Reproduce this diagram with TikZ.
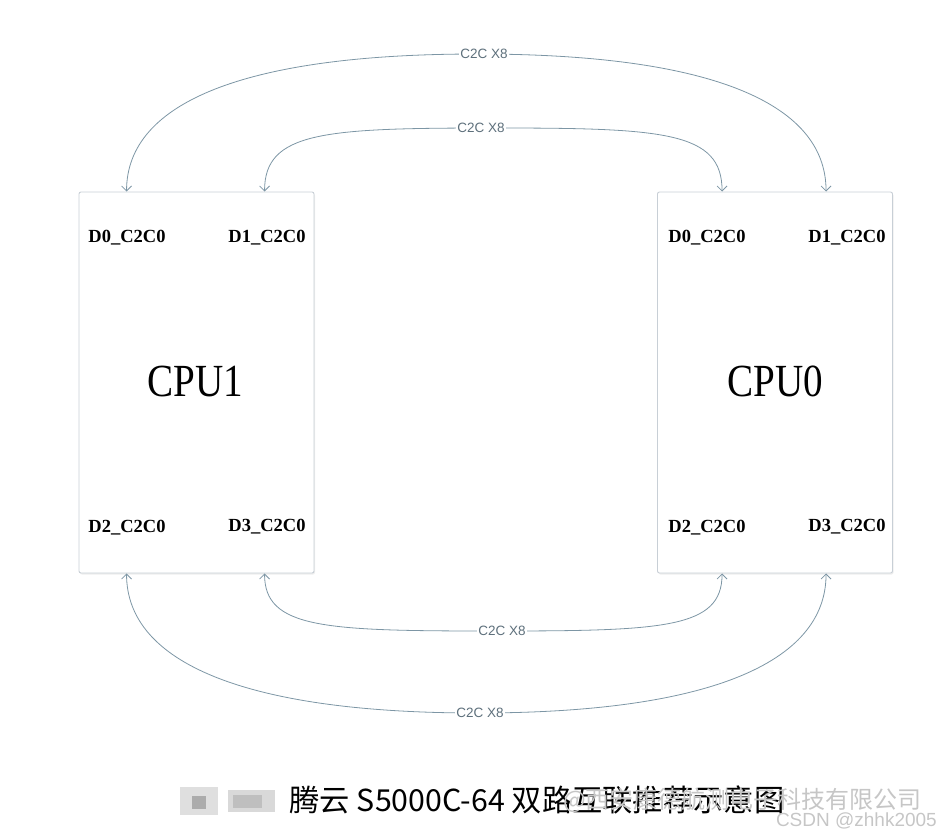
\documentclass[tikz,border=0pt]{standalone}
\usepackage{fontspec}
\setmainfont{Liberation Serif}
\newfontfamily\lsans{Liberation Sans}
\newfontfamily\cjk{Noto Sans CJK SC}
\usetikzlibrary{arrows.meta,shadows}
\definecolor{linkc}{RGB}{125,150,165}
\definecolor{boxc}{RGB}{200,207,214}

\begin{document}
\begin{tikzpicture}[x=1pt, y=-1pt, >={Straight Barb[length=5pt,width=10pt]},
    cpubox/.style={draw=boxc, line width=0.9pt, rounded corners=2pt, fill=white, minimum width=235pt, minimum height=381pt, drop shadow={opacity=0.14, shadow xshift=1pt, shadow yshift=-1.5pt}},
    port/.style={font=\fontsize{18.5}{20}\selectfont\bfseries},
    cpuname/.style={font=\fontsize{46}{48}\selectfont, xscale=0.85},
    link/.style={draw=linkc, line width=0.8pt, <->},
    linklabel/.style={font=\lsans\fontsize{13.5}{14}\selectfont, text=linkc!75!black, fill=white, inner sep=1pt}]
    \useasboundingbox (0,0) rectangle (941,837);

    \node[cpubox] (cpu1) at (196.5,382.5) {};
    \node[cpubox] (cpu0) at (775,382.5) {};
    \node[cpuname] (name1) at (195,381) {CPU1};
    \node[cpuname] (name0) at (775,381) {CPU0};

    \node[port] (p1d0) at (127,238) {D0\_C2C0};
    \node[port] (p1d1) at (267,238) {D1\_C2C0};
    \node[port] (p1d2) at (127,528) {D2\_C2C0};
    \node[port] (p1d3) at (267,527) {D3\_C2C0};
    \node[port] (p0d0) at (707,238) {D0\_C2C0};
    \node[port] (p0d1) at (847,238) {D1\_C2C0};
    \node[port] (p0d2) at (707,528) {D2\_C2C0};
    \node[port] (p0d3) at (847,527) {D3\_C2C0};

    % link ends on the box edges
    \coordinate (a1) at ([xshift=48pt]cpu1.north west);
    \coordinate (a2) at ([xshift=186pt]cpu1.north west);
    \coordinate (a3) at ([xshift=65pt]cpu0.north west);
    \coordinate (a4) at ([xshift=169pt]cpu0.north west);
    \coordinate (b1) at ([xshift=48pt]cpu1.south west);
    \coordinate (b2) at ([xshift=186pt]cpu1.south west);
    \coordinate (b3) at ([xshift=65pt]cpu0.south west);
    \coordinate (b4) at ([xshift=169pt]cpu0.south west);
    \coordinate (top1) at (477,54);
    \coordinate (top2) at (494,128);
    \coordinate (bot1) at (494,631);
    \coordinate (bot2) at (477,713);

    \draw[link] (a1) .. controls +(0,-90) and +(-230,0) .. (top1) .. controls +(230,0) and +(0,-90) .. (a4);
    \draw[link] (a2) .. controls +(0,-60) and +(-170,0) .. (top2) .. controls +(170,0) and +(0,-60) .. (a3);
    \draw[link] (b2) .. controls +(0,55) and +(-170,0) .. (bot1) .. controls +(170,0) and +(0,55) .. (b3);
    \draw[link] (b1) .. controls +(0,90) and +(-230,0) .. (bot2) .. controls +(230,0) and +(0,90) .. (b4);
    \node[linklabel] (l1) at ([xshift=7pt]top1) {C2C X8};
    \node[linklabel] (l2) at ([xshift=-13pt]top2) {C2C X8};
    \node[linklabel] (l3) at ([xshift=8pt]bot1) {C2C X8};
    \node[linklabel] (l4) at ([xshift=3pt]bot2) {C2C X8};

    % caption
    \fill[gray!25] (180,787) rectangle (218,815);
    \fill[gray!65] (192,796) rectangle (206,809);
    \fill[gray!30] (228,790) rectangle (275,812);
    \fill[gray!50] (233,795) rectangle (262,808);
    \node[font=\cjk\fontsize{30.3}{31}\selectfont] (cap) at (537,800) {腾云 S5000C-64 双路互联推荐示意图};
    \node[font=\cjk\fontsize{24}{25}\selectfont, text=gray!45, anchor=east, inner sep=0pt] (mark) at (922,800) {@西安康德航测电子科技有限公司};
    \node[font=\lsans\fontsize{19}{20}\selectfont, text=gray!45, anchor=east, inner sep=0pt] (csdn) at (937,821) {CSDN @zhhk2005};
\end{tikzpicture}
\end{document}
